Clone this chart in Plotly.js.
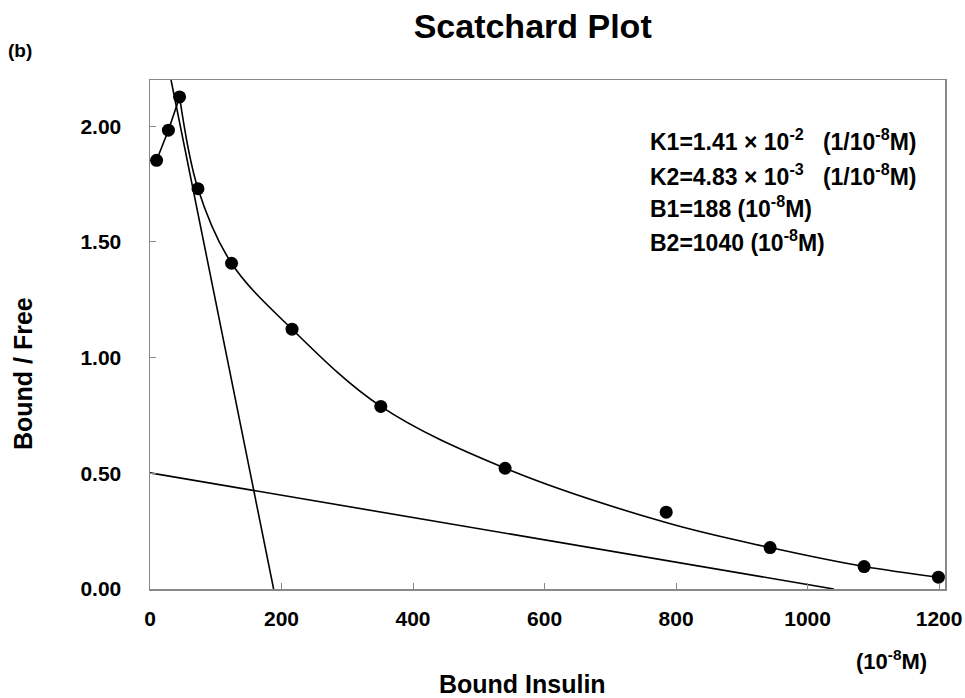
<!DOCTYPE html>
<html>
<head>
<meta charset="utf-8">
<script src="https://cdn.plot.ly/plotly-3.0.1.min.js"></script>
<style>html,body{margin:0;padding:0;background:#fff;}#chart{width:965px;height:698px;}</style>
</head>
<body>
<div id="chart"></div>
<script>
// Measured data points (Bound insulin, Bound/Free)
var boundInsulin = [10, 28, 45, 73, 124, 216, 351, 540, 785, 943, 1086, 1199];
var boundFree    = [1.853, 1.983, 2.127, 1.730, 1.408, 1.123, 0.789, 0.522, 0.332, 0.179, 0.097, 0.051];

// Fitted curve
var curveX = [45, 73, 124, 216, 351, 540, 786, 943, 1086, 1199];
var curveY = [2.127, 1.730, 1.408, 1.123, 0.789, 0.522, 0.286, 0.179, 0.097, 0.051];

// Site 1 line (high affinity) and site 2 line (low affinity)
var line1X = [32, 188];
var line1Y = [2.20, 0];
var line2X = [0, 1040];
var line2Y = [0.502, 0];

var xTicks = [0, 200, 400, 600, 800, 1000, 1200];
var yTicks = [0, 0.5, 1.0, 1.5, 2.0];

var fontFam = '"Liberation Sans", Arial, sans-serif';
var traces = [
  {x: line1X, y: line1Y, mode: 'lines', line: {color: '#000', width: 1.6}, hoverinfo: 'skip'},
  {x: line2X, y: line2Y, mode: 'lines', line: {color: '#000', width: 1.6}, hoverinfo: 'skip'},
  {x: curveX, y: curveY, mode: 'lines', line: {color: '#000', width: 1.6, shape: 'spline', smoothing: 1}, hoverinfo: 'skip'},
  {x: boundInsulin.slice(0, 3), y: boundFree.slice(0, 3), mode: 'lines', line: {color: '#000', width: 1.6}, hoverinfo: 'skip'},
  {x: boundInsulin, y: boundFree, mode: 'markers', marker: {color: '#000', size: 13}}
];

var annoFont = {family: fontFam, size: 23, color: '#000'};
var layout = {
  width: 965, height: 698,
  margin: {l: 150, r: 20, t: 80, b: 109},
  showlegend: false,
  paper_bgcolor: '#fff', plot_bgcolor: '#fff',
  font: {family: fontFam, color: '#000'},
  title: {text: '<b>Scatchard Plot</b>', x: 0.552, xanchor: 'center', y: 0.963, yanchor: 'middle',
          font: {family: fontFam, size: 34, color: '#000'}},
  xaxis: {
    range: [0, 1209], tickvals: xTicks, ticktext: xTicks.map(function(v){return '<b>' + v + '</b>';}),
    showgrid: false, zeroline: false, showline: true, mirror: true,
    linecolor: '#888', linewidth: 1.5, ticks: 'inside', ticklen: 6, tickcolor: '#888',
    tickfont: {family: fontFam, size: 21, color: '#000'},
    ticklabelstandoff: 10
  },
  yaxis: {
    range: [0, 2.2], tickvals: yTicks, ticktext: yTicks.map(function(v){return '<b>' + v.toFixed(2) + '</b>';}),
    showgrid: false, zeroline: false, showline: true, mirror: true,
    linecolor: '#888', linewidth: 1.5, ticks: 'inside', ticklen: 6, tickcolor: '#888',
    tickfont: {family: fontFam, size: 21, color: '#000'},
    ticklabelstandoff: 23
  },
  annotations: [
    {text: '<b>Bound Insulin</b>', xref: 'paper', yref: 'paper', x: 0.469, y: -0.1866, xanchor: 'center', yanchor: 'middle', showarrow: false,
     font: {family: fontFam, size: 25, color: '#000'}},
    {text: '<b>Bound / Free</b>', xref: 'paper', yref: 'paper', x: -0.1597, y: 0.4224, xanchor: 'center', yanchor: 'middle', showarrow: false, textangle: -90,
     font: {family: fontFam, size: 25, color: '#000'}},
    {text: '<b>(b)</b>', xref: 'paper', yref: 'paper', x: -0.181, y: 1.057, xanchor: 'left', yanchor: 'middle', showarrow: false,
     font: {family: fontFam, size: 19, color: '#000'}},
    {text: '<b>(10<sup>-8</sup>M)</b>', xref: 'paper', yref: 'paper', x: 0.933, y: -0.1395, xanchor: 'center', yanchor: 'middle', showarrow: false,
     font: {family: fontFam, size: 22, color: '#000'}},
    {text: '<b>K1=1.41 × 10<sup>-2</sup>   (1/10<sup>-8</sup>M)</b>', xref: 'paper', yref: 'paper', x: 0.626, y: 0.882, xanchor: 'left', yanchor: 'middle', showarrow: false, font: annoFont},
    {text: '<b>K2=4.83 × 10<sup>-3</sup>   (1/10<sup>-8</sup>M)</b>', xref: 'paper', yref: 'paper', x: 0.626, y: 0.814, xanchor: 'left', yanchor: 'middle', showarrow: false, font: annoFont},
    {text: '<b>B1=188 (10<sup>-8</sup>M)</b>', xref: 'paper', yref: 'paper', x: 0.626, y: 0.751, xanchor: 'left', yanchor: 'middle', showarrow: false, font: annoFont},
    {text: '<b>B2=1040 (10<sup>-8</sup>M)</b>', xref: 'paper', yref: 'paper', x: 0.626, y: 0.684, xanchor: 'left', yanchor: 'middle', showarrow: false, font: annoFont}
  ]
};
Plotly.newPlot('chart', traces, layout, {displayModeBar: false, staticPlot: true});
</script>
</body>
</html>
